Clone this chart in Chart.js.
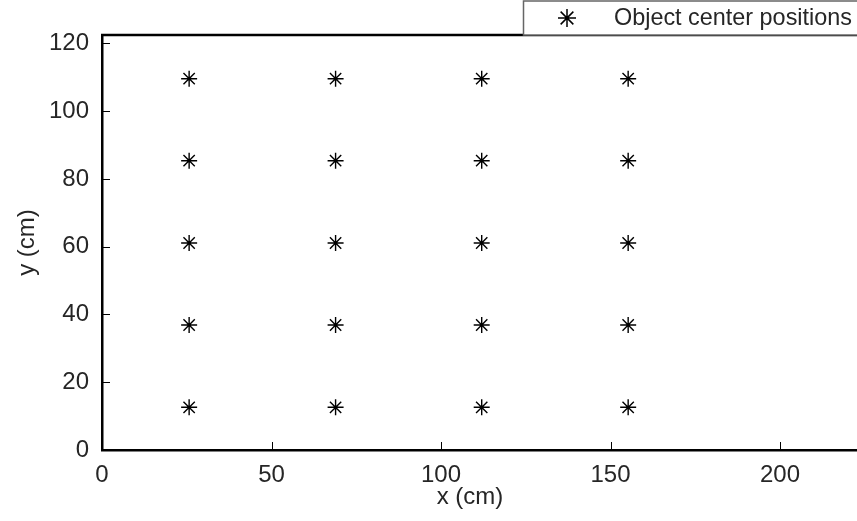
<!DOCTYPE html>
<html>
<head>
<meta charset="utf-8">
<script src="https://cdn.jsdelivr.net/npm/chart.js@4"></script>
<style>
  html, body { margin: 0; padding: 0; background: #fff; }
  #wrap { width: 857px; height: 521px; }
</style>
</head>
<body>
<div id="wrap"><canvas id="plot" width="857" height="521"></canvas></div>
<script>
/* object centre grid (cm) */
var xCenters = [25.7, 68.9, 112.0, 155.2];
var yCenters = [12.6, 36.9, 61.1, 85.4, 109.6];
var xTickValues = [0, 50, 100, 150, 200];
var yTickValues = [0, 20, 40, 60, 80, 100, 120];
var seriesLabel = 'Object center positions';
var xTitle = 'x (cm)';
var yTitle = 'y (cm)';

var points = [];
for (var i = 0; i < xCenters.length; i++) {
  for (var j = 0; j < yCenters.length; j++) {
    points.push({ x: xCenters[i], y: yCenters[j] });
  }
}

var FONT = '"Liberation Sans", Arial, Helvetica, sans-serif';
var TXT = '#262626';

/* ticks drawn inside the box, top edge, titles and legend */
var frame = {
  id: 'frame',
  afterDraw: function (chart) {
    var ctx = chart.ctx;
    var a = chart.chartArea;
    var sx = chart.scales.x, sy = chart.scales.y;
    ctx.save();
    ctx.strokeStyle = '#000';
    ctx.lineWidth = 1;
    sx.ticks.forEach(function (t) {
      var px = Math.round(sx.getPixelForValue(t.value)) + 0.5;
      ctx.beginPath(); ctx.moveTo(px, a.bottom); ctx.lineTo(px, a.bottom - 8); ctx.stroke();
    });
    sy.ticks.forEach(function (t) {
      var py = Math.round(sy.getPixelForValue(t.value)) + 0.5;
      ctx.beginPath(); ctx.moveTo(a.left, py); ctx.lineTo(a.left + 8, py); ctx.stroke();
    });
    ctx.lineWidth = 2.5;
    ctx.beginPath(); ctx.moveTo(a.left - 1, a.top); ctx.lineTo(a.right, a.top); ctx.stroke();

    // axis titles
    ctx.fillStyle = TXT;
    ctx.font = '24px ' + FONT;
    ctx.textAlign = 'center';
    ctx.textBaseline = 'middle';
    ctx.fillText(xTitle, 470, 497);
    ctx.translate(27, (a.top + a.bottom) / 2);
    ctx.rotate(-Math.PI / 2);
    ctx.fillText(yTitle, 0, 0);
    ctx.restore();

    // legend box
    ctx.save();
    ctx.fillStyle = '#fff';
    ctx.fillRect(523, 1, 340, 34);
    ctx.strokeStyle = '#666';
    ctx.lineWidth = 1.5;
    ctx.strokeRect(523.5, 1, 340, 34);
    ctx.strokeStyle = '#000';
    Chart.helpers.drawPoint(ctx, { pointStyle: 'star', radius: 9, rotation: 0, borderWidth: 1.3 }, 567, 18);
    ctx.fillStyle = TXT;
    ctx.font = '23.4px ' + FONT;
    ctx.textAlign = 'left';
    ctx.textBaseline = 'middle';
    ctx.fillText(chart.data.datasets[0].label, 614, 18.5);
    ctx.restore();
  }
};

function fixedTicks(values) {
  return function (s) { s.ticks = values.map(function (v) { return { value: v }; }); };
}

var ctx = document.getElementById('plot').getContext('2d');
var chart = new Chart(ctx, {
  type: 'scatter',
  data: {
    datasets: [{
      label: seriesLabel,
      data: points,
      pointStyle: 'star',
      pointRadius: 8,
      pointHoverRadius: 8,
      borderColor: '#000',
      backgroundColor: '#000',
      borderWidth: 1.4
    }]
  },
  options: {
    responsive: false,
    animation: false,
    layout: { autoPadding: false, padding: { top: 35, right: 0, left: 0, bottom: 0 } },
    plugins: { legend: { display: false }, tooltip: { enabled: false } },
    scales: {
      x: {
        type: 'linear',
        min: 0,
        max: 222.7,
        afterFit: function (s) { s.height = 71; s.paddingRight = 0; },
        afterBuildTicks: fixedTicks(xTickValues),
        ticks: { padding: 11, color: TXT, font: { size: 24, family: FONT }, maxRotation: 0, autoSkip: false },
        grid: { drawOnChartArea: false, drawTicks: false },
        border: { color: '#000', width: 2.5 }
      },
      y: {
        type: 'linear',
        min: 0,
        max: 122.5,
        afterFit: function (s) { s.width = 102; },
        afterBuildTicks: fixedTicks(yTickValues),
        ticks: { padding: 13, color: TXT, font: { size: 24, family: FONT }, autoSkip: false },
        grid: { drawOnChartArea: false, drawTicks: false },
        border: { color: '#000', width: 2.5 }
      }
    }
  },
  plugins: [frame]
});
</script>
</body>
</html>
